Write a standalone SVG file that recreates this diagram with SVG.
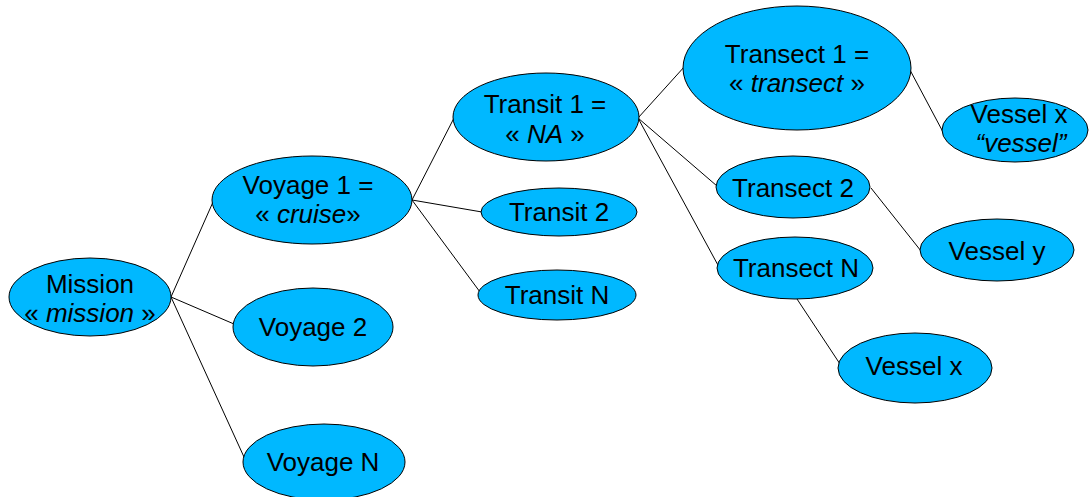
<svg xmlns="http://www.w3.org/2000/svg" width="1090" height="497" viewBox="0 0 1090 497">
<style>
.n{fill:#00b8ff;stroke:#000;stroke-width:1}
.t{font-family:"Liberation Sans",Arial,sans-serif;font-size:26px;fill:#000;text-anchor:middle}
.i{font-style:italic}
.c line{stroke:#000;stroke-width:1}
</style>
<rect width="1090" height="497" fill="#fff"/>
<g class="c" id="connectors">
<line x1="171" y1="297" x2="213" y2="202"/>
<line x1="171" y1="297" x2="234" y2="324"/>
<line x1="171" y1="297" x2="244" y2="457"/>
<line x1="412" y1="200" x2="454" y2="118"/>
<line x1="412" y1="200" x2="482" y2="212"/>
<line x1="412" y1="200" x2="480" y2="292"/>
<line x1="638" y1="118" x2="685" y2="66"/>
<line x1="638" y1="118" x2="717" y2="186"/>
<line x1="638" y1="118" x2="719" y2="267"/>
<line x1="910" y1="70" x2="943" y2="132"/>
<line x1="871" y1="188" x2="921" y2="251"/>
<line x1="797" y1="299" x2="840" y2="364"/>
</g>
<g id="mission"><ellipse class="n" cx="90" cy="297" rx="81" ry="39"/><text class="t" x="90" y="293">Mission</text><text class="t" x="90" y="322">« <tspan class="i">mission</tspan> »</text></g>
<g id="voyage1"><ellipse class="n" cx="312" cy="200" rx="100" ry="44"/><text class="t" x="308" y="194">Voyage 1 =</text><text class="t" x="308" y="223">« <tspan class="i">cruise</tspan>»</text></g>
<g id="voyage2"><ellipse class="n" cx="313" cy="327" rx="80" ry="39"/><text class="t" x="313" y="336">Voyage 2</text></g>
<g id="voyageN"><ellipse class="n" cx="324" cy="462" rx="81" ry="38"/><text class="t" x="323" y="471">Voyage N</text></g>
<g id="transit1"><ellipse class="n" cx="546" cy="117" rx="93" ry="44"/><text class="t" x="545" y="113">Transit 1 =</text><text class="t" x="545" y="143">« <tspan class="i">NA</tspan> »</text></g>
<g id="transit2"><ellipse class="n" cx="559" cy="212" rx="78" ry="24"/><text class="t" x="559" y="221">Transit 2</text></g>
<g id="transitN"><ellipse class="n" cx="557" cy="295" rx="79" ry="25"/><text class="t" x="557" y="304">Transit N</text></g>
<g id="transect1"><ellipse class="n" cx="797" cy="68" rx="114" ry="62"/><text class="t" x="797" y="63">Transect 1 =</text><text class="t" x="797" y="92">« <tspan class="i">transect</tspan> »</text></g>
<g id="transect2"><ellipse class="n" cx="793" cy="187" rx="77" ry="31"/><text class="t" x="793" y="197">Transect 2</text></g>
<g id="transectN"><ellipse class="n" cx="795" cy="268" rx="78" ry="31"/><text class="t" x="796" y="277">Transect N</text></g>
<g id="vesselX1"><ellipse class="n" cx="1015" cy="130" rx="73" ry="32"/><text class="t" x="1019" y="123">Vessel x</text><text class="t i" x="1021" y="152">“vessel”</text></g>
<g id="vesselY"><ellipse class="n" cx="997" cy="250" rx="77" ry="31"/><text class="t" x="997" y="260">Vessel y</text></g>
<g id="vesselX2"><ellipse class="n" cx="915" cy="368" rx="77" ry="35"/><text class="t" x="914" y="375">Vessel x</text></g>
</svg>
